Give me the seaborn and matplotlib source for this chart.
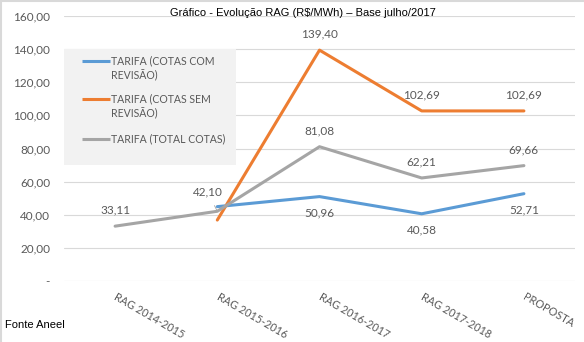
import matplotlib
matplotlib.use("Agg")
import matplotlib.pyplot as plt
from matplotlib.lines import Line2D
from matplotlib.patches import Rectangle
import numpy as np
import pandas as pd
import seaborn as sns

# Tariff series per RAG cycle (R$/MWh)
categories = ["RAG 2014-2015", "RAG 2015-2016", "RAG 2016-2017", "RAG 2017-2018", "PROPOSTA"]
com_revisao = [np.nan, 44.9, 50.96, 40.58, 52.71]
sem_revisao = [np.nan, 36.8, 139.40, 102.69, 102.69]
total_cotas = [33.11, 42.10, 81.08, 62.21, 69.66]

series_names = ["TARIFA (COTAS COM\nREVISÃO)", "TARIFA (COTAS SEM\nREVISÃO)", "TARIFA (TOTAL COTAS)"]
series_colors = ["#5b9bd5", "#ed7d31", "#a5a5a5"]
yticks = [0, 20, 40, 60, 80, 100, 120, 140, 160]

# labels shown on the chart: (series index, category index, side)
shown_labels = [
    (2, 0, "above"), (2, 1, "leader"), (2, 2, "above"), (2, 3, "above"), (2, 4, "above"),
    (0, 2, "below"), (0, 3, "below"), (0, 4, "below"),
    (1, 2, "above"), (1, 3, "above"), (1, 4, "above"),
]

sns.set_theme(style="white")
plt.rcParams["font.family"] = ["Lato", "DejaVu Sans"]

frames = []
for name, vals in zip(series_names, [com_revisao, sem_revisao, total_cotas]):
    frames.append(pd.DataFrame({"cat": categories, "valor": vals, "serie": name}))
df = pd.concat(frames, ignore_index=True)

W, H = 584, 342
fig = plt.figure(figsize=(W / 100, H / 100), dpi=100)
AX_L, AX_R, AX_T, AX_B = 64, 575, 16, 281
ax = fig.add_axes([AX_L / W, (H - AX_B) / H, (AX_R - AX_L) / W, (AX_B - AX_T) / H])

sns.lineplot(data=df, x="cat", y="valor", hue="serie", palette=series_colors,
             hue_order=series_names, sort=False, linewidth=2.2, ax=ax, legend=False)

ax.set_xlim(-0.5, len(categories) - 0.5)
ax.set_ylim(0, 160)
ax.set_yticks(yticks)
ax.set_yticklabels(["-" if v == 0 else f"{v:.2f}".replace(".", ",") for v in yticks],
                   fontsize=8.5, color="#595959")
ax.tick_params(axis="y", length=0, pad=10)
ax.set_xticks(range(len(categories)))
ax.set_xticklabels(categories, rotation=-30, ha="left", va="center",
                   rotation_mode="anchor", fontsize=7.8, color="#595959")
ax.tick_params(axis="x", length=0, pad=11)
ax.set_xlabel("")
ax.set_ylabel("")
ax.grid(axis="y", color="#d9d9d9", linewidth=0.8)
ax.set_axisbelow(True)
for s in ax.spines.values():
    s.set_visible(False)

all_vals = [com_revisao, sem_revisao, total_cotas]
for si, ci, side in shown_labels:
    v = all_vals[si][ci]
    txt = f"{v:.2f}".replace(".", ",")
    if side == "above":
        ax.annotate(txt, (ci, v), xytext=(0, 11.5), textcoords="offset points",
                    ha="center", va="center", fontsize=8.5, color="#595959")
    elif side == "below":
        ax.annotate(txt, (ci, v), xytext=(0, -11.5), textcoords="offset points",
                    ha="center", va="center", fontsize=8.5, color="#595959")
    else:
        ax.annotate(txt, (ci, v), xytext=(-7, 14), textcoords="offset points",
                    ha="center", va="center", fontsize=8.5, color="#595959",
                    arrowprops=dict(arrowstyle="-", color="#a5a5a5", lw=0.6,
                                    shrinkA=4, shrinkB=1))


def ax_xy(px, py):
    """pixel position inside the figure -> axes fraction"""
    return (px - AX_L) / (AX_R - AX_L), (AX_B - py) / (AX_B - AX_T)


# legend panel: grey box, a short line sample and wrapped label per series
x0, y1 = ax_xy(64, 165)
x1, y0 = ax_xy(236, 49)
ax.add_patch(Rectangle((x0, y1), x1 - x0, y0 - y1, transform=ax.transAxes,
                       facecolor="#f2f2f2", edgecolor="none", zorder=2.5))
entry_tops = [61, 99, 139]
for name, color, top in zip(series_names, series_colors, entry_tops):
    hx0, hy = ax_xy(82, top)
    hx1, _ = ax_xy(110, top)
    ax.add_line(Line2D([hx0, hx1], [hy, hy], transform=ax.transAxes, color=color,
                       lw=2.2, zorder=3, solid_capstyle="butt"))
    for k, line in enumerate(name.split("\n")):
        tx, ty = ax_xy(111, top + 14.5 * k)
        ax.text(tx, ty, line, transform=ax.transAxes, ha="left", va="center",
                fontsize=7.6, color="#595959", zorder=3)

fig.text(303 / W, 1 - 13 / H, "Gráfico - Evolução RAG (R$/MWh) – Base julho/2017",
         ha="center", va="center", fontsize=8, family="Liberation Sans", color="black")
fig.text(5 / W, 1 - 325 / H, "Fonte Aneel", ha="left", va="center",
         fontsize=8, family="Liberation Sans", color="black")

# thin frame on top and left edges
fig.add_artist(Line2D([0, 1], [0.998, 0.998], transform=fig.transFigure, color="#d9d9d9", lw=1.5))
fig.add_artist(Line2D([0.001, 0.001], [0, 1], transform=fig.transFigure, color="#d9d9d9", lw=1.5))

fig.savefig("out.png", dpi=100)
